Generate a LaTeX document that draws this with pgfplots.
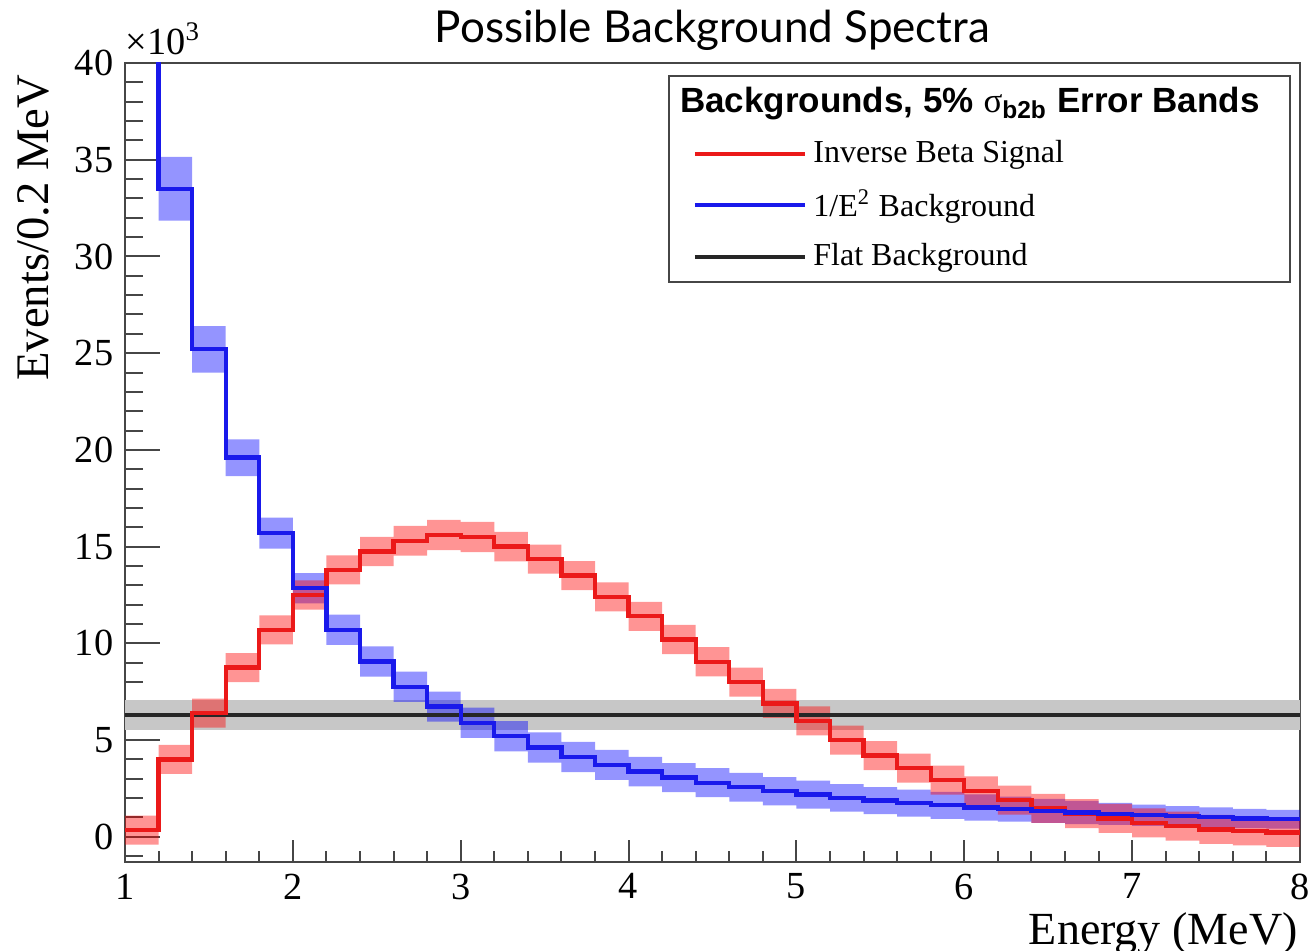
\documentclass[border=0pt]{standalone}
\usepackage{pgfplots}
\pgfplotsset{compat=1.18}
\usepackage{pgfplotstable}
\usepgfplotslibrary{fillbetween}
\usepackage{fontspec}
\setmainfont{Liberation Serif}
\newfontfamily\headfont{Liberation Sans}
\newfontfamily\titlefont{Lato}

\definecolor{rline}{RGB}{235,25,25}
\definecolor{bline}{RGB}{25,25,235}
\definecolor{axgray}{RGB}{70,70,70}

% left bin edge, red value, red band, blue value, blue band, flat value, flat band (x 10^3)
\pgfplotstableread{
x    r     re    b     be    f    fe
1.0  0.35  0.75  46.8  2.30  6.3  0.77
1.2  4.0   0.75  33.5  1.65  6.3  0.77
1.4  6.4   0.75  25.2  1.20  6.3  0.77
1.6  8.75  0.75  19.6  0.95  6.3  0.77
1.8  10.7  0.75  15.7  0.80  6.3  0.77
2.0  12.5  0.75  12.85 0.78  6.3  0.77
2.2  13.8  0.75  10.7  0.78  6.3  0.77
2.4  14.75 0.76  9.06  0.78  6.3  0.77
2.6  15.3  0.77  7.76  0.78  6.3  0.77
2.8  15.6  0.78  6.73  0.78  6.3  0.77
3.0  15.5  0.78  5.9   0.78  6.3  0.77
3.2  15.0  0.76  5.2   0.78  6.3  0.77
3.4  14.35 0.75  4.62  0.78  6.3  0.77
3.6  13.5  0.75  4.13  0.78  6.3  0.77
3.8  12.4  0.75  3.72  0.77  6.3  0.77
4.0  11.4  0.75  3.37  0.76  6.3  0.77
4.2  10.2  0.75  3.06  0.75  6.3  0.77
4.4  9.05  0.75  2.80  0.75  6.3  0.77
4.6  8.0   0.75  2.56  0.74  6.3  0.77
4.8  6.9   0.75  2.36  0.73  6.3  0.77
5.0  6.0   0.75  2.18  0.72  6.3  0.77
5.2  5.0   0.75  2.01  0.71  6.3  0.77
5.4  4.2   0.75  1.87  0.70  6.3  0.77
5.6  3.55  0.75  1.74  0.70  6.3  0.77
5.8  2.93  0.75  1.63  0.70  6.3  0.77
6.0  2.38  0.75  1.52  0.68  6.3  0.77
6.2  1.9   0.75  1.43  0.65  6.3  0.77
6.4  1.47  0.75  1.34  0.62  6.3  0.77
6.6  1.2   0.75  1.26  0.60  6.3  0.77
6.8  0.95  0.75  1.19  0.57  6.3  0.77
7.0  0.72  0.75  1.12  0.55  6.3  0.77
7.2  0.55  0.75  1.06  0.53  6.3  0.77
7.4  0.38  0.75  1.01  0.51  6.3  0.77
7.6  0.31  0.75  0.95  0.50  6.3  0.77
7.8  0.23  0.75  0.91  0.48  6.3  0.77
8.0  0.23  0.75  0.91  0.48  6.3  0.77
}\data

\begin{document}
\begin{tikzpicture}
\begin{axis}[
  scale only axis, width=352.5pt, height=239.7pt,
  xmin=1, xmax=8, ymin=-1.3, ymax=40,
  xtick={1,2,...,8}, ytick={0,5,...,40},
  minor xtick={1,1.2,...,8}, minor ytick={-1,0,...,40},
  xtick pos=left, ytick pos=left, tick align=inside,
  xtick style={/pgfplots/major tick length=6.5pt, /pgfplots/minor tick length=3.2pt, axgray, line width=0.6pt},
  ytick style={/pgfplots/major tick length=10.5pt, /pgfplots/minor tick length=5.3pt, axgray, line width=0.6pt},
  axis line style={axgray, line width=0.8pt},
  scaled ticks=false,
  /pgf/number format/assume math mode=true,
  tick label style={font=\fontsize{11.5}{13}\selectfont},
  xlabel={Energy (MeV)},
  xlabel style={font=\fontsize{13.8}{15}\selectfont, at={(axis description cs:1.008,-0.103)}, anchor=base east},
  ylabel={Events/0.2 MeV},
  ylabel style={font=\fontsize{14}{15}\selectfont, at={(axis description cs:-0.078,1)}, anchor=east},
  title={Possible Background Spectra},
  title style={font=\titlefont\fontsize{13.2}{15}\selectfont, at={(axis description cs:0.5,1)}, anchor=base, yshift=0pt},
  legend style={at={(rel axis cs:0.992,0.985)}, anchor=north east, draw=axgray, line width=0.6pt,
    font=\fontsize{9.6}{11}\selectfont, row sep=2.6pt, inner xsep=7pt, inner ysep=1.5pt,
    cells={anchor=west}},
  legend image code/.code={\draw[#1, line width=1.2pt] (0pt,0pt) -- (33pt,0pt);},
]
% error bands
\addplot[const plot, draw=none, name path=fU, forget plot] table[x=x, y expr=\thisrow{f}+\thisrow{fe}] {\data};
\addplot[const plot, draw=none, name path=fL, forget plot] table[x=x, y expr=\thisrow{f}-\thisrow{fe}] {\data};
\addplot[fill=black!22, draw=none, forget plot] fill between[of=fU and fL];

\addplot[const plot, draw=none, name path=bU, forget plot] table[x=x, y expr=\thisrow{b}+\thisrow{be}] {\data};
\addplot[const plot, draw=none, name path=bL, forget plot] table[x=x, y expr=\thisrow{b}-\thisrow{be}] {\data};
\addplot[fill=blue, fill opacity=0.42, draw=none, forget plot] fill between[of=bU and bL];

\addplot[const plot, draw=none, name path=rU, forget plot] table[x=x, y expr=\thisrow{r}+\thisrow{re}] {\data};
\addplot[const plot, draw=none, name path=rL, forget plot] table[x=x, y expr=\thisrow{r}-\thisrow{re}] {\data};
\addplot[fill=red, fill opacity=0.42, draw=none, forget plot] fill between[of=rU and rL];

% central lines
\addplot[const plot, black!85, line width=1.3pt, forget plot] table[x=x, y=f] {\data};
\addplot[const plot, rline, line width=1.3pt, forget plot] table[x=x, y=r] {\data};
\addplot[const plot, bline, line width=1.3pt, forget plot] table[x=x, y=b] {\data};

% legend
\addlegendimage{empty legend}
\addlegendentry{\hspace*{-40pt}{\headfont\bfseries\fontsize{10.5}{12}\selectfont Backgrounds, 5\% {\rmfamily\mdseries σ}\textsubscript{b2b} Error Bands}}
\addlegendimage{rline}
\addlegendentry{Inverse Beta Signal}
\addlegendimage{bline}
\addlegendentry{1/E\textsuperscript{2} Background}
\addlegendimage{black!85}
\addlegendentry{Flat Background}
\end{axis}
\node[anchor=base west, inner sep=0pt, font=\fontsize{11.5}{13}\selectfont] at ([yshift=2.5pt]current axis.north west) {×10\textsuperscript{3}};
\pgfresetboundingbox
\useasboundingbox (-37.5pt,-26.7pt) rectangle (355.8pt,258.6pt);
\end{tikzpicture}
\end{document}
